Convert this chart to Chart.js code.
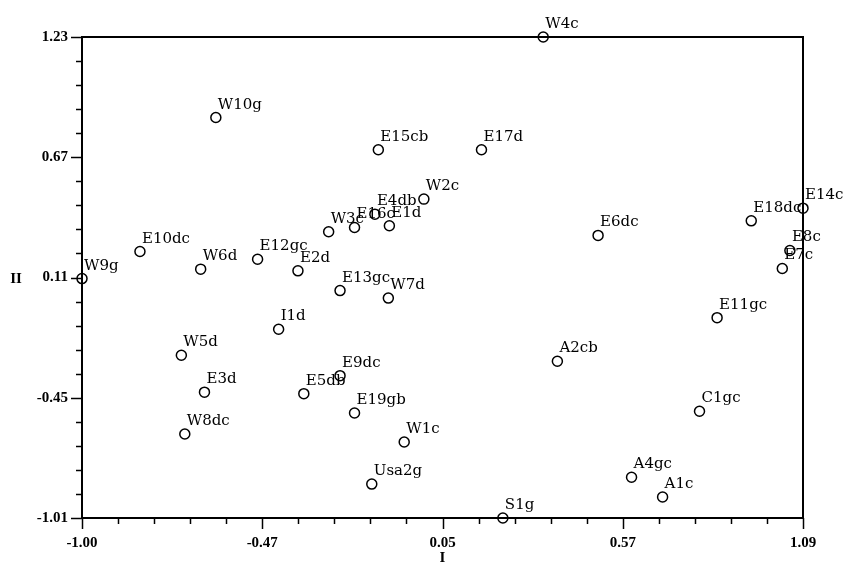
<!DOCTYPE html>
<html>
<head>
<meta charset="utf-8">
<script src="https://cdn.jsdelivr.net/npm/chart.js@4/dist/chart.umd.min.js"></script>
<style>
  body { margin: 0; background: #fff; }
</style>
</head>
<body>
<canvas id="grafico" width="844" height="567"></canvas>
<script>
const names = ['W4c', 'W10g', 'E15cb', 'E17d', 'W2c', 'E4db', 'E16c', 'E1d', 'W3c', 'E10dc',
    'W6d', 'E12gc', 'E2d', 'W9g', 'E13gc', 'W7d', 'E6dc', 'E18dc', 'E14c', 'E8c',
    'E7c', 'E11gc', 'I1d', 'W5d', 'A2cb', 'E9dc', 'E3d', 'E5db', 'E19gb', 'C1gc',
    'W8dc', 'W1c', 'A4gc', 'Usa2g', 'A1c', 'S1g'];
const compI = [0.337, -0.612, -0.141, 0.158, -0.009, -0.151, -0.210, -0.109, -0.285, -0.832,
    -0.656, -0.491, -0.374, -1.000, -0.252, -0.112, 0.496, 0.940, 1.090, 1.052,
    1.030, 0.841, -0.430, -0.712, 0.378, -0.252, -0.645, -0.357, -0.210, 0.790,
    -0.702, -0.066, 0.593, -0.160, 0.683, 0.220];
const compII = [1.230, 0.855, 0.705, 0.705, 0.475, 0.405, 0.343, 0.351, 0.323, 0.231,
    0.149, 0.195, 0.141, 0.105, 0.049, 0.014, 0.306, 0.374, 0.433, 0.236,
    0.152, -0.077, -0.131, -0.252, -0.280, -0.347, -0.424, -0.431, -0.521, -0.513,
    -0.619, -0.656, -0.820, -0.852, -0.912, -1.010];

const xTickLabels = ['-1.00', '-0.47', '0.05', '0.57', '1.09'];
const yTickLabels = ['-1.01', '-0.45', '0.11', '0.67', '1.23'];

const pontos = names.map((n, i) => ({ x: compI[i], y: compII[i] }));

// rotulos dos pontos, ticks e titulos dos eixos
const extras = {
    id: 'extras',
    afterDatasetsDraw(chart) {
        const ctx = chart.ctx;
        const area = chart.chartArea;
        const sx = chart.scales.x;
        const sy = chart.scales.y;
        ctx.save();
        ctx.strokeStyle = '#000';
        ctx.lineWidth = 2;
        ctx.strokeRect(area.left, area.top, area.right - area.left, area.bottom - area.top);

        ctx.lineWidth = 1.5;
        sx.ticks.forEach((t, i) => {
            const px = Math.round(sx.getPixelForValue(t.value)) + 0.5;
            const len = i % 5 === 0 ? 11 : 6;
            ctx.beginPath();
            ctx.moveTo(px, area.bottom);
            ctx.lineTo(px, area.bottom + len);
            ctx.stroke();
        });
        sy.ticks.forEach((t, i) => {
            const py = Math.round(sy.getPixelForValue(t.value)) + 0.5;
            const len = i % 5 === 0 ? 11 : 6;
            ctx.beginPath();
            ctx.moveTo(area.left, py);
            ctx.lineTo(area.left - len, py);
            ctx.stroke();
        });

        ctx.fillStyle = '#000';
        ctx.font = 'bold 15px "Liberation Serif"';
        ctx.textAlign = 'center';
        ctx.textBaseline = 'middle';
        ctx.fillText('II', 16, (area.top + area.bottom) / 2 + 2);
        ctx.fillText('I', (area.left + area.right) / 2, 558);

        const meta = chart.getDatasetMeta(0);
        ctx.font = '15px "DejaVu Serif"';
        ctx.textAlign = 'left';
        ctx.textBaseline = 'alphabetic';
        meta.data.forEach((p, i) => {
            ctx.fillText(names[i], p.x + 2, p.y - 9);
        });
        ctx.restore();
    }
};

new Chart(document.getElementById('grafico'), {
    type: 'scatter',
    data: {
        datasets: [{
            data: pontos,
            pointRadius: 5,
            pointHoverRadius: 5,
            pointBorderWidth: 1.5,
            pointBorderColor: '#000',
            pointBackgroundColor: '#fff',
            clip: false
        }]
    },
    options: {
        responsive: false,
        animation: false,
        layout: { padding: { top: 37, right: 41, left: 0, bottom: 0 } },
        plugins: {
            legend: { display: false },
            tooltip: { enabled: false }
        },
        scales: {
            x: {
                type: 'linear',
                min: -1.00,
                max: 1.09,
                grid: { display: false, drawTicks: false },
                border: { display: false },
                afterFit(scale) { scale.height = 49; },
                ticks: {
                    stepSize: 0.1045,
                    autoSkip: false,
                    maxRotation: 0,
                    padding: 16,
                    color: '#000',
                    font: { family: 'Liberation Serif', size: 15, weight: 'bold' },
                    callback: (v, i) => i % 5 === 0 ? xTickLabels[i / 5] : ''
                }
            },
            y: {
                type: 'linear',
                min: -1.01,
                max: 1.23,
                grid: { display: false, drawTicks: false },
                border: { display: false },
                afterFit(scale) { scale.width = 82; },
                ticks: {
                    stepSize: 0.112,
                    autoSkip: false,
                    padding: 14,
                    color: '#000',
                    font: { family: 'Liberation Serif', size: 15, weight: 'bold' },
                    callback: (v, i) => i % 5 === 0 ? yTickLabels[i / 5] : ''
                }
            }
        }
    },
    plugins: [extras]
});
</script>
</body>
</html>
